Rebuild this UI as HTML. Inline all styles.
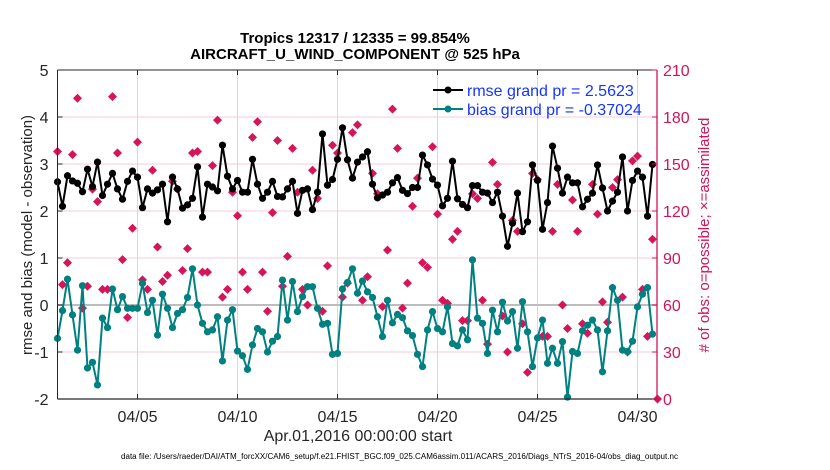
<!DOCTYPE html>
<html><head><meta charset="utf-8"><style>
html,body{margin:0;padding:0;background:#fff;}
svg{display:block;font-family:"Liberation Sans",Arial,sans-serif;}
</style></head><body>
<svg id="chart" width="830" height="470" viewBox="0 0 830 470" xmlns="http://www.w3.org/2000/svg">
<rect x="0" y="0" width="830" height="470" fill="#fff"/>
<text x="355" y="43" text-anchor="middle" font-size="15" font-weight="bold" fill="#000">Tropics 12317 / 12335 = 99.854%</text>
<text x="355" y="59" text-anchor="middle" font-size="15" font-weight="bold" fill="#000">AIRCRAFT_U_WIND_COMPONENT @ 525 hPa</text>
<g id="grid"></g>
<g id="obs"></g>
<g id="rmse"></g>
<g id="bias"></g>
<g id="axes"></g>
<g>
 <line x1="433" y1="90" x2="463" y2="90" stroke="#000" stroke-width="2"/>
 <circle cx="448" cy="90" r="3.5" fill="#000"/>
 <text x="467" y="96" font-size="16" fill="#1436ff">rmse grand pr = 2.5623</text>
 <line x1="433" y1="109" x2="463" y2="109" stroke="#008080" stroke-width="2"/>
 <circle cx="448" cy="109" r="3.5" fill="#008080"/>
 <text x="467" y="115" font-size="16" fill="#1436ff">bias grand pr = -0.37024</text>
</g>
<text transform="translate(32,235) rotate(-90)" text-anchor="middle" font-size="15" fill="#262626">rmse and bias (model - observation)</text>
<text transform="translate(709,235) rotate(-90)" text-anchor="middle" font-size="15" fill="#d1145a"># of obs: o=possible; ×=assimilated</text>
<text x="358" y="441" text-anchor="middle" font-size="16" fill="#262626">Apr.01,2016 00:00:00 start</text>
<text x="121" y="459" font-size="8" fill="#000" textLength="557" lengthAdjust="spacingAndGlyphs">data file: /Users/raeder/DAI/ATM_forcXX/CAM6_setup/f.e21.FHIST_BGC.f09_025.CAM6assim.011/ACARS_2016/Diags_NTrS_2016-04/obs_diag_output.nc</text>
</svg>
<script>
const rmseValues=[2.62,2.1,2.75,2.64,2.59,2.41,2.89,2.52,3.04,2.33,2.57,2.8,2.47,2.25,2.63,2.85,2.72,2.07,2.47,2.38,2.45,2.57,1.77,2.72,2.47,2.06,2.13,2.27,2.94,1.87,2.57,2.51,2.43,3.4,2.74,2.47,2.65,2.4,2.4,3.1,2.57,2.27,2.4,2.63,2.31,2.3,2.47,2.63,1.95,2.44,2.47,2.03,2.4,3.64,2.55,2.67,3.1,3.77,3.09,2.7,3.04,3.15,3.26,2.57,2.28,2.34,2.4,2.6,2.71,2.44,2.37,2.5,2.5,3.19,2.98,2.68,2.55,2.11,2.27,3.06,2.26,2.14,2.07,2.54,2.54,2.4,2.38,2.18,2.4,1.89,1.25,1.74,2.38,1.56,1.77,2.98,2.65,1.61,2.18,3.38,2.91,2.38,2.72,2.6,2.6,2.09,2.25,2.38,2.98,2.49,2.0,2.21,2.4,3.15,2.0,2.65,2.85,2.72,1.89,2.99];
const biasValues=[-0.71,-0.12,0.55,-0.21,-0.96,0.41,-1.34,-1.22,-1.7,-0.28,-0.48,0.34,-0.1,0.18,-0.07,-0.07,-0.07,0.46,-0.16,0.1,-0.64,0.23,-0.07,-0.48,-0.18,-0.1,0.16,0.77,0,-0.39,-0.57,-0.53,-0.25,-1.19,-0.32,-0.1,-0.98,-1.08,-1.37,-0.85,-0.5,-0.57,-1.0,-0.77,-0.67,0.53,-0.32,0.5,-0.14,0.18,0.39,0.39,-0.07,-0.41,-0.39,-1.05,-1.03,0.34,0.48,0.77,0.25,0.51,0.28,0.16,-0.25,-0.67,0.1,-0.38,-0.2,-0.27,-0.55,-0.65,-1.05,-1.31,-0.53,-0.14,-0.5,-0.57,-0.04,-0.82,-0.87,-0.53,-0.74,0.96,-0.28,-0.39,-1.03,-0.11,-0.57,0.06,-0.34,-0.14,-0.92,0.07,-0.57,-1.31,-0.7,-0.32,-1.24,-0.92,-1.24,-0.78,-1.96,-0.99,-1.03,-0.55,-0.43,-0.32,-0.53,-1.42,-0.55,0.37,0.1,-0.96,-0.99,-0.77,-0.04,0.23,0.37,-0.62];
const obsCounts=[158,73,87,156,192,58,72,134,126,70,70,193,157,89,52,109,164,76,70,146,97,75,79,139,134,82,96,157,158,81,81,149,178,65,70,132,117,81,70,167,177,81,56,119,165,72,91,160,132,70,60,146,128,56,85,162,157,65,74,170,175,63,78,144,131,59,95,185,160,58,74,123,141,87,84,161,118,63,61,102,107,50,50,131,128,63,35,151,137,53,30,114,107,48,17,144,140,40,40,107,137,60,45,127,107,48,42,137,118,62,49,135,140,65,30,152,155,70,40,102,0];
const xTickDays=[4,9,14,19,24,29];
const xTickLabels=["04/05","04/10","04/15","04/20","04/25","04/30"];
const yTicksLeft=[-2,-1,0,1,2,3,4,5];
const yTicksRight=[0,30,60,90,120,150,180,210];
const stepDays=0.25;

const L=57.5,R=657,T=70,B=399,dayPx=20;
const NS="http://www.w3.org/2000/svg";
function xs(d){return L+d*dayPx;}
function yl(v){return T+(5-v)*(B-T)/7;}
function yr(c){return B-c*(B-T)/210;}
function mk(tag,attrs,parent){const e=document.createElementNS(NS,tag);for(const k in attrs)e.setAttribute(k,attrs[k]);parent.appendChild(e);return e;}
const grid=document.getElementById('grid'),axes=document.getElementById('axes');
yTicksLeft.forEach(v=>{if(v===0||v===-2||v===5)return;const g=mk('line',{x1:L,x2:R,y1:yl(v),y2:yl(v),stroke:'#f5cbd9','stroke-width':1},grid);

});
xTickDays.forEach(d=>{const g=mk('line',{x1:xs(d),x2:xs(d),y1:T,y2:B,stroke:'#d9d9d9','stroke-width':1},grid);

});
const z=mk('line',{x1:L,x2:R,y1:yl(0),y2:yl(0),stroke:'#bdbdbd','stroke-width':2},grid);



const obs=document.getElementById('obs');
obsCounts.forEach((c,i)=>{const x=xs(i*stepDays),y=yr(c),s=4.5;
const p=mk('path',{d:`M${x} ${y-s}L${x+s} ${y}L${x} ${y+s}L${x-s} ${y}Z`,fill:'#d6145a'},obs);

});

function series(id,vals,color){const g=document.getElementById(id);
const pts=vals.map((v,i)=>xs(i*stepDays).toFixed(1)+','+yl(v).toFixed(1)).join(' ');
const pl=mk('polyline',{points:pts,fill:'none',stroke:color,'stroke-width':2,'stroke-linejoin':'round'},g);


vals.forEach((v,i)=>{const c=mk('circle',{cx:xs(i*stepDays),cy:yl(v),r:3.6,fill:color},g);

});}
series('rmse',rmseValues,'#000');
series('bias',biasValues,'#008080');

// axes
let a=mk('line',{x1:L,x2:L,y1:T,y2:B,stroke:'#262626','stroke-width':1},axes);


a=mk('line',{x1:L,x2:R,y1:T,y2:T,stroke:'#262626','stroke-width':1},axes);


a=mk('line',{x1:L,x2:R,y1:B,y2:B,stroke:'#262626','stroke-width':1.3},axes);


a=mk('line',{x1:R,x2:R,y1:T,y2:B,stroke:'#d1145a','stroke-width':1.3},axes);


yTicksLeft.forEach(v=>{const y=yl(v);mk('line',{x1:L,x2:L+5,y1:y,y2:y,stroke:'#262626'},axes);
const t=mk('text',{x:L-9,y:y+6,'text-anchor':'end','font-size':16,fill:'#262626'},axes);t.textContent=String(v);

});
yTicksRight.forEach(c=>{const y=yr(c);mk('line',{x1:R-5,x2:R,y1:y,y2:y,stroke:'#d1145a'},axes);
const t=mk('text',{x:R+6,y:y+6,'font-size':16,fill:'#d1145a'},axes);t.textContent=String(c);

});
xTickDays.forEach((d,i)=>{const x=xs(d);mk('line',{x1:x,x2:x,y1:B-5,y2:B,stroke:'#262626'},axes);
mk('line',{x1:x,x2:x,y1:T,y2:T+5,stroke:'#262626'},axes);
const t=mk('text',{x:x,y:422,'text-anchor':'middle','font-size':16,fill:'#262626'},axes);t.textContent=xTickLabels[i];

});
</script>
</body></html>
